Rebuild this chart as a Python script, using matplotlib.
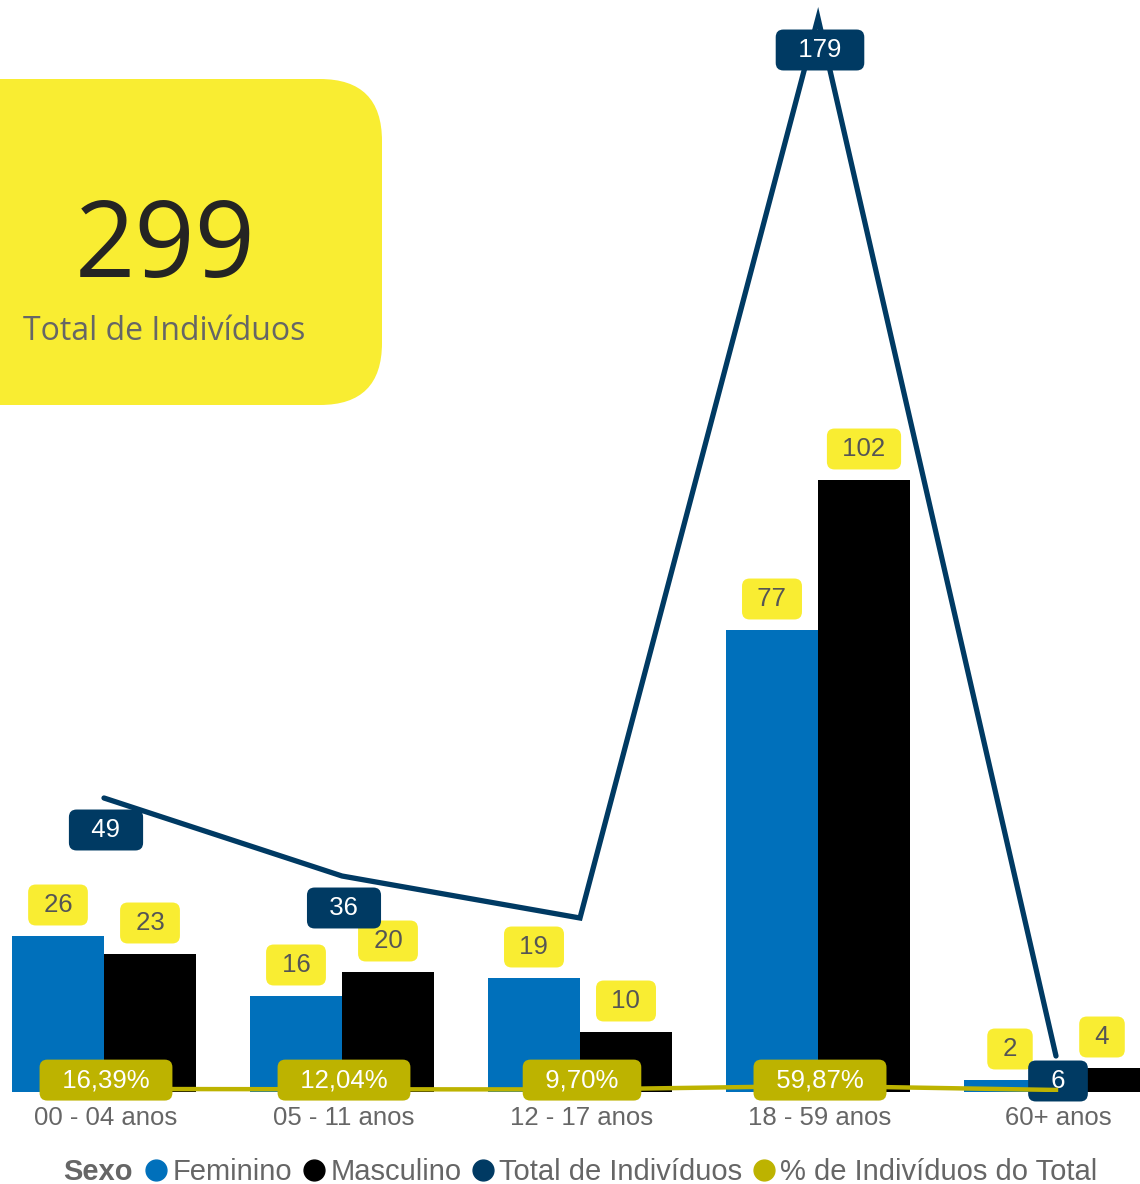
import numpy as np
import matplotlib
matplotlib.use("Agg")
import matplotlib.pyplot as plt
from matplotlib.patches import FancyBboxPatch
from matplotlib.lines import Line2D

plt.rcParams['font.family'] = ['Liberation Sans', 'DejaVu Sans']

# data
faixas = ['00 - 04 anos', '05 - 11 anos', '12 - 17 anos', '18 - 59 anos', '60+ anos']
feminino = [26, 16, 19, 77, 2]
masculino = [23, 20, 10, 102, 4]
total = [49, 36, 29, 179, 6]
pct = [16.39, 12.04, 9.70, 59.87, 2.01]
total_geral = 299
show_total = [True, True, False, True, True]
show_pct = [True, True, True, True, False]

BLUE = '#0070BB'
BLACK = '#000000'
NAVY = '#003A63'
YELLOW = '#F9ED32'
OLIVE = '#BDB300'
GRAY = '#666666'

W, H = 1140, 1184
fig = plt.figure(figsize=(W / 100, H / 100), dpi=100)

base_px = 1092
ax = fig.add_axes([0, (H - base_px) / H, 1, base_px / H])
x = np.arange(len(faixas))
bw = 92 / 238
ax.bar(x - bw / 2, feminino, bw, color=BLUE, zorder=2)
ax.bar(x + bw / 2, masculino, bw, color=BLACK, zorder=2)
ax.plot(x, total, color=NAVY, lw=3.8, solid_capstyle='round', solid_joinstyle='miter', zorder=3)
ax.set_xlim(-104 / 238, (W - 104) / 238)
ax.set_ylim(0, base_px / 6)
ax.axis('off')

lab = dict(fontsize=18.5, ha='center', va='center', textcoords='offset pixels', zorder=6)
box = 'round,pad=0.33,rounding_size=0.3'
for i in range(len(faixas)):
    ax.annotate(f' {feminino[i]} ', (x[i] - bw / 2, feminino[i]), xytext=(0, 31), color='#555555',
                bbox=dict(boxstyle=box, fc=YELLOW, ec='none'), **lab)
    ax.annotate(f' {masculino[i]} ', (x[i] + bw / 2, masculino[i]), xytext=(0, 31), color='#555555',
                bbox=dict(boxstyle=box, fc=YELLOW, ec='none'), **lab)
    if show_total[i]:
        off = -25 if total[i] < 10 else -32
        ax.annotate(f'  {total[i]}  ', (x[i], total[i]), xytext=(2, off), color='white',
                    bbox=dict(boxstyle=box, fc=NAVY, ec='none'), **lab)

# percentage line, on its own scale
ax2 = ax.twinx()
ax2.plot(x, pct, color=OLIVE, lw=3.2, zorder=3)
ax2.set_ylim(-28, 16000)
ax2.set_xlim(ax.get_xlim())
ax2.axis('off')
for i in range(len(faixas)):
    if show_pct[i]:
        ax2.annotate('  ' + f'{pct[i]:.2f}'.replace('.', ',') + '%  ', (x[i], 0), xytext=(2, 10),
                     color='white', bbox=dict(boxstyle=box, fc=OLIVE, ec='none'), **lab)

# tick labels
for i, f in enumerate(faixas):
    ax.annotate(f, (x[i], 0), xytext=(2, -26), textcoords='offset pixels', ha='center', va='center',
                fontsize=18.5, color=GRAY, annotation_clip=False)

# card overlay in pixel coordinates
ov = fig.add_axes([0, 0, 1, 1], zorder=5)
ov.set_xlim(0, W)
ov.set_ylim(H, 0)
ov.axis('off')
ov.patch.set_alpha(0)
ov.add_patch(FancyBboxPatch((-100, 79), 482, 326, boxstyle='round,pad=0,rounding_size=62',
                            fc=YELLOW, ec='none'))
ov.text(165, 277, str(total_geral), fontsize=76, color='#252423', ha='center', va='baseline',
        family=['Open Sans', 'DejaVu Sans'])
ov.text(164, 332, 'Total de Indivíduos', fontsize=23, color=GRAY, ha='center', va='center',
        family=['Open Sans', 'DejaVu Sans'])

# legend
ov.text(63, 1172, 'Sexo', fontsize=21, fontweight='bold', color=GRAY, va='center', ha='left')
handles = [Line2D([], [], ls='none', marker='o', ms=15, color=c) for c in (BLUE, BLACK, NAVY, OLIVE)]
names = ['Feminino', 'Masculino', 'Total de Indivíduos', '% de Indivíduos do Total']
leg = fig.legend(handles, names, loc='center left', bbox_to_anchor=(148 / W, (H - 1172) / H), ncol=4,
                 frameon=False, fontsize=21, handlelength=0.55, handletextpad=0.3, columnspacing=0.45,
                 borderaxespad=0, borderpad=0)
for t in leg.get_texts():
    t.set_color(GRAY)

fig.savefig('out.png', dpi=100)
